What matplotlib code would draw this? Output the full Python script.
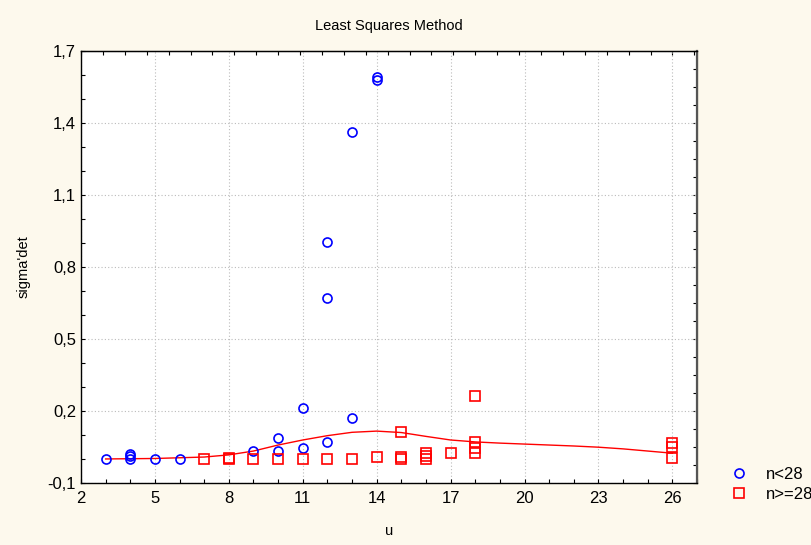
import numpy as np
import matplotlib
matplotlib.use('Agg')
from matplotlib import pyplot as plt
from matplotlib.ticker import MultipleLocator, FuncFormatter

plt.rcParams['font.family'] = ['Liberation Sans', 'DejaVu Sans']

# n<28 group (blue circles)
u_small = [3, 4, 4, 4, 5, 6, 9, 10, 10, 11, 11, 12, 12, 12, 13, 13, 14, 14]
s_small = [0.0, 0.0, 0.012, 0.02, 0.0, 0.0, 0.033, 0.087, 0.032, 0.212, 0.044,
           0.070, 0.670, 0.903, 0.169, 1.361, 1.580, 1.591]

# n>=28 group (red squares)
u_large = [7, 8, 8, 9, 10, 11, 12, 13, 14, 15, 15, 15, 16, 16, 16, 17,
           18, 18, 18, 18, 26, 26, 26]
s_large = [0.0, 0.0, 0.005, 0.0, 0.0, 0.0, 0.0, 0.0, 0.007, 0.111, 0.01, 0.0,
           0.026, 0.012, 0.0, 0.024, 0.263, 0.069, 0.045, 0.024, 0.065, 0.049, 0.003]

# fitted curve
u_fit = [3, 4, 5, 6, 7, 8, 9, 10, 11, 12, 13, 14, 15, 16, 17, 18, 19, 20, 21, 22, 23, 24, 25, 26]
s_fit = [0.0, 0.001, 0.002, 0.005, 0.008, 0.017, 0.033, 0.058, 0.079, 0.097, 0.111,
         0.116, 0.110, 0.094, 0.079, 0.071, 0.066, 0.062, 0.058, 0.054, 0.049,
         0.042, 0.033, 0.024]

x_ticks = [2, 5, 8, 11, 14, 17, 20, 23, 26]
y_ticks = [-0.1, 0.2, 0.5, 0.8, 1.1, 1.4, 1.7]

bg = '#fdf9ed'
fig = plt.figure(figsize=(8.11, 5.45), dpi=100, facecolor=bg)
ax = fig.add_axes([0.0999, 0.1138, 0.7595, 0.7932])
ax.set_facecolor('white')

ax.plot(u_fit, s_fit, color='red', lw=1.0, zorder=2)
ax.plot(u_small, s_small, 'o', mfc='none', mec='blue', ms=6.5, mew=1.2, label='n<28', zorder=3)
ax.plot(u_large, s_large, 's', mfc='none', mec='red', ms=6.5, mew=1.2, label='n>=28', zorder=3)

ax.set_xlim(2, 27)
ax.set_ylim(-0.1, 1.7)
ax.set_xticks(x_ticks)
ax.xaxis.set_minor_locator(MultipleLocator(1))
ax.set_yticks(y_ticks)
ax.yaxis.set_minor_locator(MultipleLocator(0.1))
ax.yaxis.set_major_formatter(FuncFormatter(lambda v, p: ('%.1f' % v).replace('.', ',')))
ax.xaxis.set_major_formatter(FuncFormatter(lambda v, p: '%d' % round(v)))
ax.tick_params(which='both', direction='in', length=3, width=0.8, labelsize=12, colors='black')
ax.tick_params(which='both', top=False, right=False)
ax.tick_params(axis='x', pad=6)
ax.grid(True, which='major', color='#bbbbbb', linestyle=(0, (1, 2)), lw=0.8)
ax.set_axisbelow(True)
for sp in ax.spines.values():
    sp.set_linewidth(1.0)
ax.spines['right'].set_color('#555555')
ax.spines['right'].set_linewidth(1.6)

# extra ticks on top and right edges
top = ax.secondary_xaxis('top')
top.set_xticks([2 + 0.889 * k for k in range(29)])
top.tick_params(direction='in', length=3, labeltop=False)
right = ax.secondary_yaxis('right')
right.set_yticks([-0.1 + 0.075 * k for k in range(25)])
right.tick_params(direction='in', length=3, labelright=False)

ax.set_title('Least Squares Method', fontsize=10.5, pad=15)
ax.set_xlabel('u', fontsize=10.5, labelpad=13)
ax.set_ylabel("sigma'det", fontsize=10.5, labelpad=12)

fig.legend(loc='upper left', bbox_to_anchor=(0.885, 0.165), frameon=False,
           fontsize=12, handletextpad=1.0, labelspacing=0.3, handlelength=1.2,
           borderpad=0.2)

fig.savefig('out.png', dpi=100, facecolor=bg)
